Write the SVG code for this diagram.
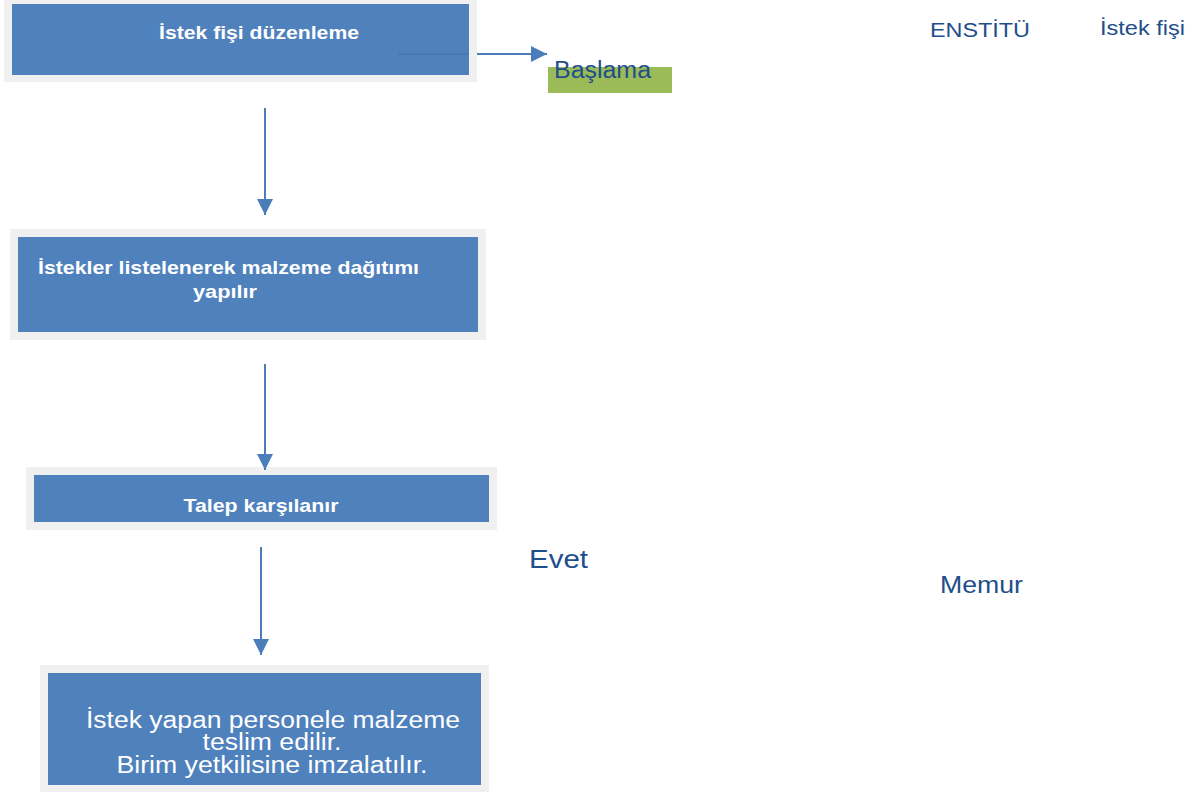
<svg xmlns="http://www.w3.org/2000/svg" width="1204" height="794" viewBox="0 0 1204 794">
<defs>
<style>
.frame{fill:#f0f0f0}
.box{fill:#4f81bd}
.bt{font-family:"Liberation Sans",Arial,sans-serif;font-weight:bold;fill:#ffffff;font-size:19px}
.nt{font-family:"Liberation Sans",Arial,sans-serif;fill:#ffffff;font-size:23px}
.lbl{font-family:"Liberation Sans",Arial,sans-serif;fill:#1f4e8c}
.con{stroke:#4a7ebb;stroke-width:2;fill:none}
</style>
<marker id="ah2" viewBox="0 0 10 10" refX="10" refY="5" markerWidth="16" markerHeight="16" markerUnits="userSpaceOnUse" orient="auto">
<path d="M0,0 L10,5 L0,10 z" fill="#4a7ebb"/>
</marker>
</defs>
<rect width="1204" height="794" fill="#ffffff"/>

<g id="baslama">
<rect x="548" y="67" width="124" height="26" fill="#9bbb59"/>
<text class="lbl" x="554" y="78" font-size="23" textLength="97" lengthAdjust="spacingAndGlyphs">Başlama</text>
</g>

<g id="node1">
<rect class="frame" x="4" y="0" width="473" height="82"/>
<rect class="box" x="12" y="4" width="457" height="71"/>
<text class="bt" x="259" y="39" text-anchor="middle" textLength="200" lengthAdjust="spacingAndGlyphs">İstek fişi düzenleme</text>
</g>

<g id="node2">
<rect class="frame" x="10" y="229" width="476" height="111"/>
<rect class="box" x="18" y="237" width="460" height="95"/>
<text class="bt" x="38" y="274" textLength="381" lengthAdjust="spacingAndGlyphs">İstekler listelenerek malzeme dağıtımı</text>
<text class="bt" x="225" y="298" text-anchor="middle" textLength="64" lengthAdjust="spacingAndGlyphs">yapılır</text>
</g>

<g id="node3">
<rect class="frame" x="26" y="467" width="471" height="63"/>
<rect class="box" x="34" y="475" width="455" height="47"/>
<text class="bt" x="261" y="512" text-anchor="middle" textLength="155" lengthAdjust="spacingAndGlyphs">Talep karşılanır</text>
</g>

<g id="node4">
<rect class="frame" x="40" y="665" width="449" height="127"/>
<rect class="box" x="48" y="673" width="433" height="112"/>
<text class="nt" x="273" y="728" text-anchor="middle" textLength="374" lengthAdjust="spacingAndGlyphs">İstek yapan personele malzeme</text>
<text class="nt" x="272" y="750" text-anchor="middle" textLength="139" lengthAdjust="spacingAndGlyphs">teslim edilir.</text>
<text class="nt" x="272" y="773" text-anchor="middle" textLength="311" lengthAdjust="spacingAndGlyphs">Birim yetkilisine imzalatılır.</text>
</g>

<g id="labels">
<text class="lbl" x="930" y="37" font-size="20" textLength="100" lengthAdjust="spacingAndGlyphs">ENSTİTÜ</text>
<text class="lbl" x="1100" y="35" font-size="20" textLength="85" lengthAdjust="spacingAndGlyphs">İstek fişi</text>
<text class="lbl" x="529" y="568" font-size="26" textLength="59" lengthAdjust="spacingAndGlyphs">Evet</text>
<text class="lbl" x="940" y="593" font-size="24" textLength="83" lengthAdjust="spacingAndGlyphs">Memur</text>
</g>

<g id="connectors">
<line x1="398" y1="54" x2="469" y2="54" stroke="#4778b4" stroke-width="2"/>
<line class="con" x1="477" y1="54" x2="547" y2="54" marker-end="url(#ah2)"/>
<line class="con" x1="265" y1="108" x2="265" y2="215" marker-end="url(#ah2)"/>
<line class="con" x1="265" y1="364" x2="265" y2="470" marker-end="url(#ah2)"/>
<line class="con" x1="261" y1="547" x2="261" y2="655" marker-end="url(#ah2)"/>
</g>
</svg>
